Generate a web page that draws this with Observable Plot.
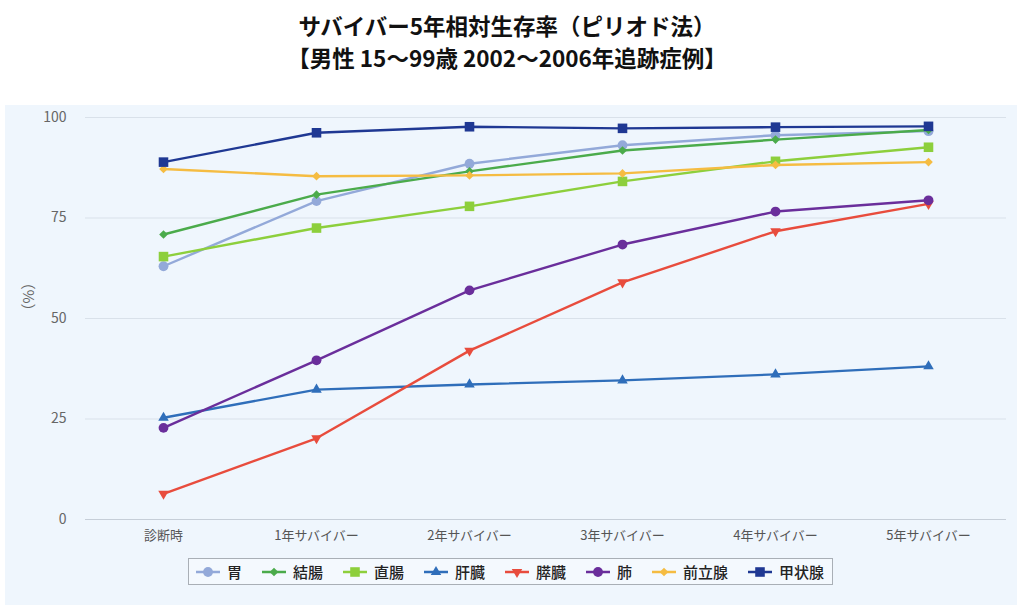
<!DOCTYPE html>
<html lang="ja">
<head>
<meta charset="utf-8">
<script src="https://cdn.jsdelivr.net/npm/d3@7"></script>
<script src="https://cdn.jsdelivr.net/npm/@observablehq/plot@0.6"></script>
<style>
  html, body { margin: 0; padding: 0; background: #fff; }
  body {
    width: 1024px; height: 613px; position: relative; overflow: hidden;
    font-family: "Noto Sans CJK JP", "Noto Sans", sans-serif;
  }
  #title {
    position: absolute; top: 9px; left: 0; width: 1014px;
    text-align: center; font-weight: bold; font-size: 22.5px; line-height: 32px; color: #111;
  }
  #panel {
    position: absolute; left: 5px; top: 105px; width: 1012px; height: 500px;
    background: #eff6fd;
  }
  #legend {
    position: absolute; left: 188px; top: 558px; width: 645px; height: 27px;
    border: 1px solid #a9afb6; background: #f4f9fe;
    display: flex; align-items: center; box-sizing: border-box;
    padding-left: 7px; white-space: nowrap;
  }
  .item { display: flex; align-items: center; margin-right: 20px; flex-shrink: 0; }
  .item:last-child { margin-right: 0; }
  .item svg { display: block; margin-right: 7px; flex-shrink: 0; }
  .item span { font-size: 15px; font-weight: 500; color: #222; line-height: 1; white-space: nowrap; }
</style>
</head>
<body>
<div id="title">サバイバー5年相対生存率（ピリオド法）<br>【男性 15〜99歳 2002〜2006年追跡症例】</div>
<div id="panel"></div>
<div id="legend"></div>
<script>
// Survival stages along the x axis
const stages = ["診断時", "1年サバイバー", "2年サバイバー", "3年サバイバー", "4年サバイバー", "5年サバイバー"];

// Cancer sites (legend order)
const sites = ["胃", "結腸", "直腸", "肝臓", "膵臓", "肺", "前立腺", "甲状腺"];

// 5-year relative survival (%) at each stage, per site
const stomach   = [63.0, 79.2, 88.5, 93.1, 95.6, 96.6];
const colon     = [70.9, 80.8, 86.6, 91.8, 94.5, 96.9];
const rectum    = [65.4, 72.5, 77.9, 84.1, 89.1, 92.6];
const liver     = [25.3, 32.3, 33.6, 34.6, 36.1, 38.1];
const pancreas  = [6.4, 20.2, 42.0, 59.0, 71.7, 78.5];
const lung      = [22.8, 39.6, 57.0, 68.4, 76.6, 79.4];
const prostate  = [87.2, 85.4, 85.6, 86.1, 88.2, 88.9];
const thyroid   = [88.9, 96.2, 97.7, 97.3, 97.6, 97.8];

const seriesValues = [stomach, colon, rectum, liver, pancreas, lung, prostate, thyroid];

// Per-series appearance
const colors = ["#93a9d9", "#4bab4b", "#8dcf3c", "#2f6eba", "#e84c3d", "#6a2e9b", "#f5bc42", "#1f3893"];

const triangleDown = {
  draw(context, size) {
    const s3 = Math.sqrt(3);
    const y = -Math.sqrt(size / (s3 * 3));
    context.moveTo(0, -y * 2);
    context.lineTo(-s3 * y, y);
    context.lineTo(s3 * y, y);
    context.closePath();
  }
};
const markers = [
  {symbol: "circle", r: 4.9},
  {symbol: "diamond2", r: 3.9},
  {symbol: "square", r: 5.4},
  {symbol: "triangle", r: 3.9},
  {symbol: triangleDown, r: 3.9},
  {symbol: "circle", r: 4.9},
  {symbol: "diamond2", r: 3.9},
  {symbol: "square", r: 5.4}
];

// Tidy rows built from the arrays above
const rows = sites.flatMap((site, i) =>
  stages.map((stage, j) => ({site, stage, value: seriesValues[i][j]}))
);

const font = "'Noto Sans CJK JP', 'Noto Sans', sans-serif";

const seriesMarks = sites.flatMap((site, i) => {
  const data = rows.filter(d => d.site === site);
  return [
    Plot.line(data, {x: "stage", y: "value", stroke: colors[i], strokeWidth: 2.4}),
    Plot.dot(data, {x: "stage", y: "value", fill: colors[i], symbol: markers[i].symbol, r: markers[i].r})
  ];
});

const chart = Plot.plot({
  width: 1012,
  height: 500,
  marginLeft: 80,
  marginRight: 11,
  marginTop: 12,
  marginBottom: 86,
  style: {background: "transparent", fontFamily: font, overflow: "visible"},
  x: {type: "point", domain: stages, padding: 0.5, label: null},
  y: {domain: [0, 100], label: null},
  marks: [
    Plot.gridY([25, 50, 75, 100], {stroke: "#d9e1ea", strokeOpacity: 1, strokeWidth: 1}),
    Plot.ruleY([0], {stroke: "#c6ced8", strokeWidth: 1.2}),
    Plot.axisY({ticks: [0, 25, 50, 75, 100], tickSize: 0, tickPadding: 19, fontSize: 14, fill: "#666", label: null}),
    Plot.axisX({tickSize: 0, tickPadding: 11, fontSize: 13, fill: "#555", label: null}),
    Plot.text(["（%）"], {frameAnchor: "left", dx: -56, rotate: -90, fontSize: 15, fill: "#666"}),
    ...seriesMarks
  ]
});
document.getElementById("panel").appendChild(chart);

// Legend: line-with-marker swatch plus site name
const legend = d3.select("#legend");
sites.forEach((site, i) => {
  const item = legend.append("div").attr("class", "item");
  const svg = item.append("svg").attr("width", 24).attr("height", 14);
  svg.append("line").attr("x1", 0).attr("x2", 24).attr("y1", 7).attr("y2", 7)
    .attr("stroke", colors[i]).attr("stroke-width", 2.5);
  const sym = typeof markers[i].symbol === "string"
    ? {circle: d3.symbolCircle, diamond2: d3.symbolDiamond2, square: d3.symbolSquare, triangle: d3.symbolTriangle}[markers[i].symbol]
    : markers[i].symbol;
  const size = Math.PI * markers[i].r * markers[i].r;
  svg.append("path").attr("transform", "translate(12,7)")
    .attr("d", d3.symbol(sym, size)()).attr("fill", colors[i]);
  item.append("span").text(site);
});
</script>
</body>
</html>
